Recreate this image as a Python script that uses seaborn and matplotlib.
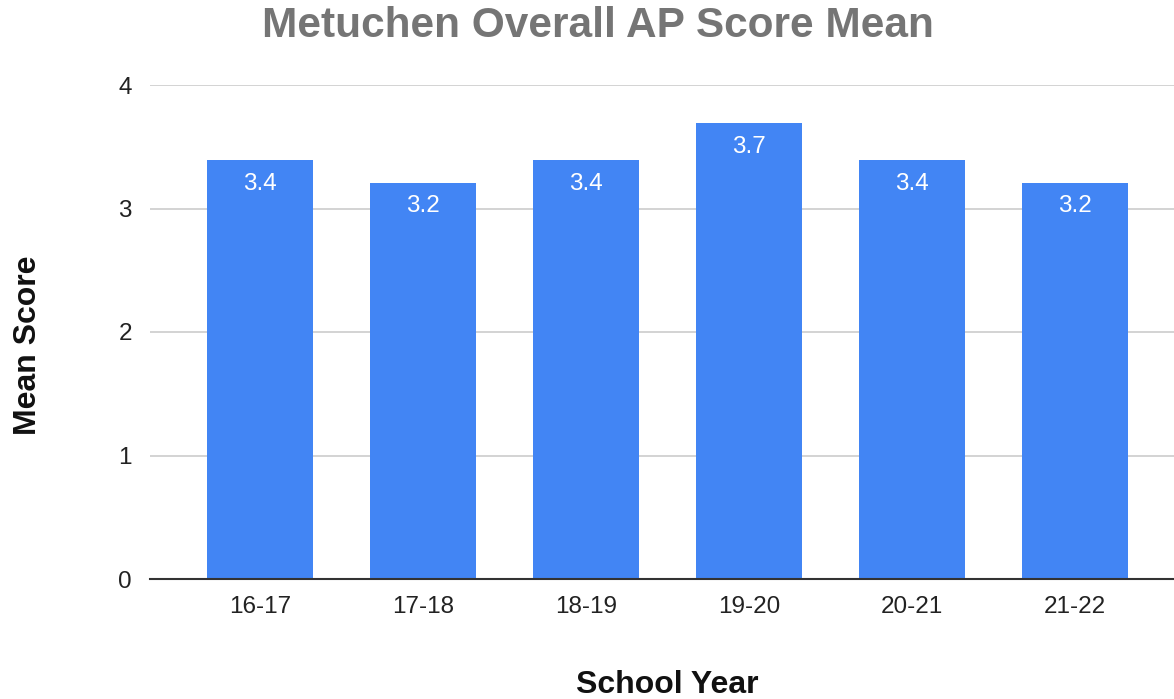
import matplotlib
matplotlib.use("Agg")
import matplotlib.pyplot as plt
import seaborn as sns
import pandas as pd

# values
years = ["16-17", "17-18", "18-19", "19-20", "20-21", "21-22"]
mean_scores = [3.39, 3.21, 3.39, 3.69, 3.39, 3.21]
score_labels = ["3.4", "3.2", "3.4", "3.7", "3.4", "3.2"]

df = pd.DataFrame({"School Year": years, "Mean Score": mean_scores})

sns.set_style("white")
plt.rcParams["font.family"] = ["Liberation Sans", "DejaVu Sans"]

fig = plt.figure(figsize=(11.74, 6.99), dpi=100)
ax = fig.add_axes([150 / 1174, 120 / 699, 1024 / 1174, 494 / 699])

sns.barplot(data=df, x="School Year", y="Mean Score", color="#4285F4",
            saturation=1, width=0.645, ax=ax, zorder=3, linewidth=0)

ax.set_ylim(0, 4)
ax.set_xlim(-0.675, 5.607)
ax.set_yticks([0, 1, 2, 3, 4])
ax.yaxis.grid(True, color="#cccccc", linewidth=1.2, zorder=0)
ax.set_axisbelow(True)

for s in ["top", "right", "left"]:
    ax.spines[s].set_visible(False)
ax.spines["bottom"].set_color("#333333")
ax.spines["bottom"].set_linewidth(1.5)
ax.spines["bottom"].set_zorder(4)

ax.tick_params(axis="both", length=0, labelsize=17.5, labelcolor="#222222")
ax.tick_params(axis="y", pad=13)
ax.tick_params(axis="x", pad=12)

# value labels inside the bar tops
for patch, lab in zip(ax.patches, score_labels):
    ax.annotate(lab, (patch.get_x() + patch.get_width() / 2, patch.get_height()),
                xytext=(0, -17), textcoords="offset points",
                ha="center", va="center", color="white", fontsize=17.5, zorder=5)

ax.set_xlabel("School Year", fontsize=23, fontweight="bold", color="#111111")
ax.xaxis.set_label_coords(0.505, -0.215)
ax.xaxis.label.set_va("center")
ax.set_ylabel("Mean Score", fontsize=23, fontweight="bold", color="#111111")
ax.yaxis.set_label_coords(-0.119, 0.474)
ax.yaxis.label.set_va("center")

fig.text(598 / 1174, 1 - 26 / 699, "Metuchen Overall AP Score Mean",
         ha="center", va="center", fontsize=30.5, fontweight="bold", color="#757575")

fig.savefig("out.png", dpi=100, facecolor="white")
